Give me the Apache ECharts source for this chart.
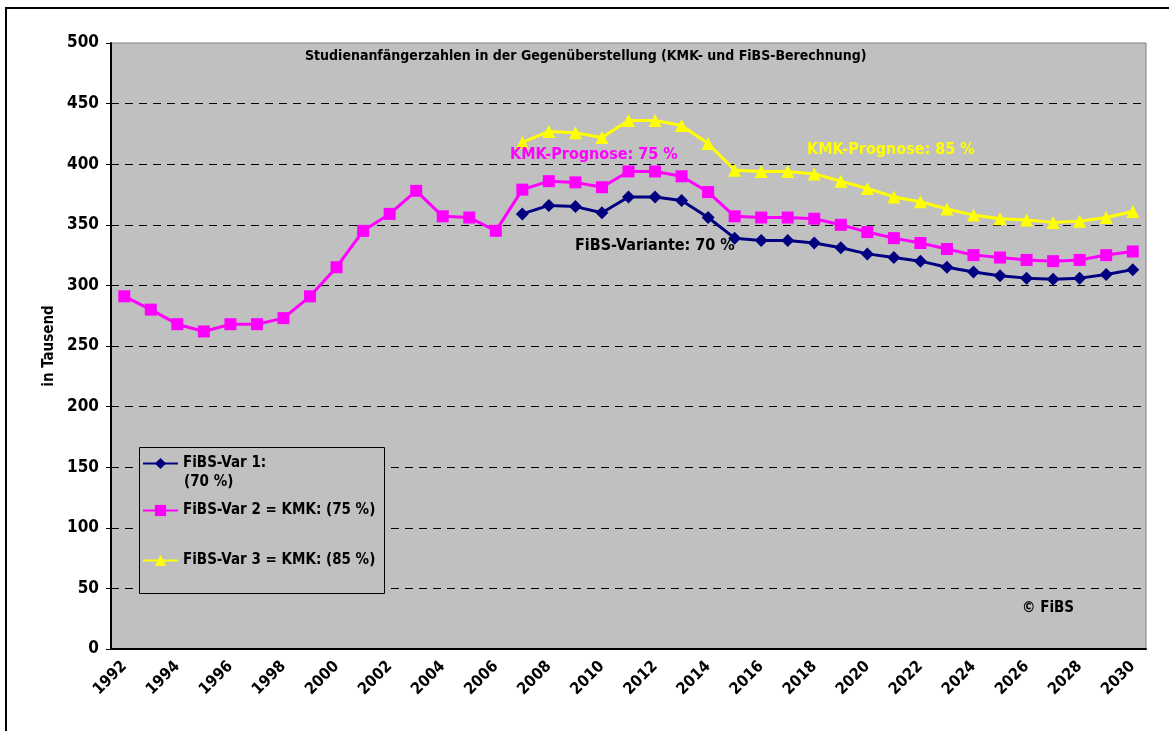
<!DOCTYPE html>
<html>
<head>
	<meta charset="UTF-8">
	<script src="https://cdn.jsdelivr.net/npm/echarts@6/dist/echarts.min.js"></script>
	<title></title>
	<style>body{margin:0;background:#fff;}</style>
</head>
<body>
	<div id="main" style="height:731px;width:1169px;"></div>
	<script type="text/javascript">
        var myChart = echarts.init(document.getElementById('main'));
        var font = "'DejaVu Sans Condensed', sans-serif";

        var years = [];
        for (var y = 1992; y <= 2030; y++) years.push(String(y));

        // 1992-2006 gemeinsame Ist-Werte, ab 2007 Prognosen
        var var2 = [291, 280, 268, 262, 268, 268, 273, 291, 315, 345, 359, 378, 357, 356, 345,
                    379, 386, 385, 381, 394, 394, 390, 377, 357, 356, 356, 355, 350, 344, 339,
                    335, 330, 325, 323, 321, 320, 321, 325, 328];
        var var1 = [359, 366, 365, 360, 373, 373, 370, 356, 339, 337, 337, 335, 331, 326, 323,
                    320, 315, 311, 308, 306, 305, 306, 309, 313];
        var var3 = [418, 427, 426, 422, 436, 436, 432, 417, 395, 394, 394, 392, 386, 380, 373,
                    369, 363, 358, 355, 354, 352, 353, 356, 361];

        var pad = [];
        for (var i = 0; i < 15; i++) pad.push('-');
        var1 = pad.concat(var1);
        var3 = pad.concat(var3);

        var txt = function (size) {
            return {fontFamily: font, fontWeight: 'bold', fontSize: size, color: '#000'};
        };

        var option = {
            animation: false,
            grid: {
                left: 111, right: 23, top: 43, bottom: 82,
                show: true, backgroundColor: '#c0c0c0', borderColor: '#808080', borderWidth: 1
            },
            xAxis: {
                type: 'category',
                data: years,
                boundaryGap: true,
                axisLine: {lineStyle: {color: '#000', width: 2}},
                axisTick: {interval: 0, length: 5, lineStyle: {color: '#000'}},
                axisLabel: {interval: 1, rotate: 45, margin: 15,
                    fontFamily: font, fontWeight: 'bold', fontSize: 16, color: '#000'}
            },
            yAxis: {
                type: 'value',
                min: 0, max: 500, interval: 50,
                name: 'in Tausend',
                nameLocation: 'middle',
                nameGap: 46,
                nameTextStyle: txt(15),
                axisLine: {show: true, lineStyle: {color: '#000', width: 2}},
                axisTick: {show: true, length: 5, lineStyle: {color: '#000'}},
                axisLabel: {fontFamily: font, fontWeight: 'bold', fontSize: 17, color: '#000', margin: 12},
                splitLine: {showMaxLine: false, lineStyle: {color: '#000', type: [8, 6], width: 1}}
            },
            legend: [
                {data: ['FiBS-Var 1:'], left: 142, top: 456, padding: 0, itemWidth: 35, itemHeight: 14,
                 textStyle: txt(15)},
                {data: ['FiBS-Var 2 = KMK: (75 %)'], left: 142, top: 503, padding: 0, itemWidth: 35, itemHeight: 14,
                 textStyle: txt(15)},
                {data: ['FiBS-Var 3 = KMK: (85 %)'], left: 142, top: 553, padding: 0, itemWidth: 35, itemHeight: 14,
                 textStyle: txt(15)}
            ],
            graphic: [
                {type: 'rect', z: 100, silent: true,
                 shape: {x: 6, y: 8, width: 1400, height: 1000},
                 style: {fill: null, stroke: '#000', lineWidth: 2}},
                {type: 'rect', z: 3,
                 shape: {x: 139.5, y: 447.5, width: 245, height: 146},
                 style: {fill: '#c0c0c0', stroke: '#000', lineWidth: 1}},
                {type: 'text', z: 5, left: 184, top: 475,
                 style: {text: '(70 %)', font: 'bold 15px ' + font, fill: '#000'}},
                {type: 'text', z: 5, left: 305, top: 49,
                 style: {text: 'Studienanfängerzahlen in der Gegenüberstellung (KMK- und FiBS-Berechnung)',
                         font: 'bold 14px ' + font, fill: '#000'}},
                {type: 'text', z: 5, left: 510, top: 147,
                 style: {text: 'KMK-Prognose: 75 %', font: 'bold 16px ' + font, fill: '#ff00ff'}},
                {type: 'text', z: 5, left: 807, top: 142,
                 style: {text: 'KMK-Prognose: 85 %', font: 'bold 16px ' + font, fill: '#ffff00'}},
                {type: 'text', z: 5, left: 575, top: 238,
                 style: {text: 'FiBS-Variante: 70 %', font: 'bold 16px ' + font, fill: '#000'}},
                {type: 'text', z: 5, left: 1022, top: 601,
                 style: {text: '© FiBS', font: 'bold 15px ' + font, fill: '#000'}}
            ],
            series: [
                {
                    name: 'FiBS-Var 1:', type: 'line', data: var1,
                    symbol: 'diamond', symbolSize: 13,
                    lineStyle: {color: '#000080', width: 3},
                    itemStyle: {color: '#000080'}
                },
                {
                    name: 'FiBS-Var 2 = KMK: (75 %)', type: 'line', data: var2,
                    symbol: 'rect', symbolSize: 12,
                    lineStyle: {color: '#ff00ff', width: 3},
                    itemStyle: {color: '#ff00ff'}
                },
                {
                    name: 'FiBS-Var 3 = KMK: (85 %)', type: 'line', data: var3,
                    symbol: 'triangle', symbolSize: 13,
                    lineStyle: {color: '#ffff00', width: 3},
                    itemStyle: {color: '#ffff00'}
                }
            ]
        };
        myChart.setOption(option);
	</script>
</body>
</html>
